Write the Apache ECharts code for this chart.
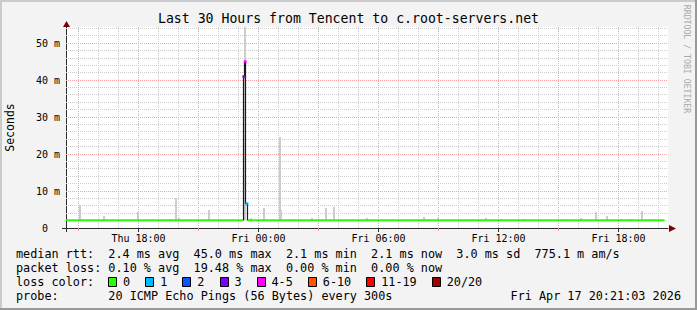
<!DOCTYPE html>
<html><head><meta charset="utf-8">
<script src="https://cdn.jsdelivr.net/npm/echarts@6/dist/echarts.min.js"></script>
<style>html,body{margin:0;padding:0;background:#f3f3f3}#c{width:697px;height:310px}</style>
</head><body><div id="c"></div>
<script>
// ---------------- data (hours since Thu 00:00, values in ms) ----------------
const titleText = 'Last 30 Hours from Tencent to c.root-servers.net';
const xRange = [14.375, 44.475];
const xLabelHours = [18, 24, 30, 36, 42];
const xLabelTexts = ['Thu 18:00', 'Fri 00:00', 'Fri 06:00', 'Fri 12:00', 'Fri 18:00'];
const xMinorTickHours = [15, 21, 27, 33, 39];
const yMax = 54.4;
const yTickValues = [0, 10, 20, 30, 40, 50];
const yTickTexts = ['0  ', '10 m', '20 m', '30 m', '40 m', '50 m'];
const yAxisName = 'Seconds';
const watermark = 'RRDTOOL / TOBI OETIKER';
const stepHours = 300 / 3600;

// median rtt, loss 0 (green)
const medianLine = [[14.375, 2.1], [23.25, 2.1], [23.3, '-'], [23.45, 2.1], [44.3, 2.1]];
// median rtt during the loss spike
const medianSpike = [[23.25, 2.1], [23.25, 41], [23.3, 41], [23.3, 45], [23.35, 45], [23.35, 6.6], [23.45, 6.6], [23.45, 2.1]];
// [hour, value, loss class index]
const lossMarks = [[23.27, 41, 3], [23.34, 45, 4], [23.42, 6.6, 1]];
// smoke: [hour, max ping]
const smokeLow = 2.1;
const smoke = [
  [15.075, 6.2], [16.265, 3.3], [17.95, 4.4], [19.6, 2.4], [19.85, 8.2], [20.0, 2.7],
  [21.515, 4.9], [23.325, 54.3], [23.6, 2.8], [24.265, 5.3], [25.05, 24.5], [25.12, 4.9],
  [25.6, 2.5], [26.685, 2.8], [27.35, 5.5], [27.765, 5.8], [29.435, 2.6], [32.265, 3.1],
  [32.515, 2.4], [32.965, 2.8], [34.685, 2.4], [35.35, 2.8], [36.1, 2.4], [37.015, 2.4],
  [37.265, 2.4], [39.185, 2.4], [40.1, 2.8], [40.85, 4.2], [41.435, 3.3], [42.1, 2.4],
  [42.6, 2.4], [43.185, 4.7], [43.765, 2.4]
];
const lossLabels = ['0', '1', '2', '3', '4-5', '6-10', '11-19', '20/20'];
const lossColors = ['#26ff00', '#00b8ff', '#0059ff', '#7e00ff', '#ff00ff', '#ff5500', '#ff0000', '#a10000'];
const medianStats = ['2.4 ms avg', '45.0 ms max', '2.1 ms min', '2.1 ms now', '3.0 ms sd', '775.1 m am/s'];
const lossStats = ['0.10 % avg', '19.48 % max', '0.00 % min', '0.00 % now'];
const probeText = '20 ICMP Echo Pings (56 Bytes) every 300s';
const stampText = 'Fri Apr 17 20:21:03 2026';

// ---------------- styling / layout ----------------
const MONO = '"DejaVu Sans Mono", monospace';
const MAJ = '#f2a0a0', MIN = '#cccccc', AXIS = '#2b2b2b', ARROW = '#7f0000';
const CW = 7.1, LX = 16, LFS = 11.8;
const nb = s => s.replace(/ /g, '\u00a0');
const pad = (s, n) => s + ' '.repeat(Math.max(0, n - s.length));

const gridHours = [];
for (let h = Math.ceil(xRange[0]); h <= Math.floor(xRange[1]); h++) gridHours.push([h]);
const gridMs = [];
for (let v = 2; v < yMax; v += 2) gridMs.push([v]);

function vGrid(params, api) {
  const h = api.value(0);
  const p = api.coord([h, 0]);
  const cs = params.coordSys;
  const x = Math.floor(p[0]) + 0.5;
  return { type: 'line', silent: true,
    shape: { x1: x, y1: cs.y, x2: x, y2: cs.y + cs.height },
    style: { stroke: h % 3 === 0 ? MAJ : MIN, lineWidth: 1, lineDash: [1, 1] } };
}
function hGrid(params, api) {
  const v = api.value(0);
  const p = api.coord([xRange[0], v]);
  const cs = params.coordSys;
  const y = Math.floor(p[1]) + 0.5;
  return { type: 'line', silent: true,
    shape: { x1: cs.x, y1: y, x2: cs.x + cs.width, y2: y },
    style: { stroke: v % 10 === 0 ? MAJ : MIN, lineWidth: 1, lineDash: [1, 1] } };
}
function smokeItem(params, api) {
  const h = api.value(0), hi = api.value(1);
  const top = api.coord([h, hi]);
  const bot = api.coord([h, smokeLow]);
  const w = Math.max(1, Math.round(api.size([stepHours, 0])[0]));
  const x = Math.round(top[0] - w / 2);
  return { type: 'rect', shape: { x: x, y: Math.round(top[1]), width: w, height: Math.round(bot[1]) - Math.round(top[1]) },
    style: { fill: '#cccccc' } };
}

// legend graphics
const graphics = [];
const txt = (x, y, s, extra) => Object.assign({ type: 'text', x: x, y: y, silent: true,
  style: Object.assign({ text: nb(s), fontFamily: MONO, fontSize: LFS, fill: '#000', verticalAlign: 'middle', align: 'left' }, extra || {}) });
graphics.push(txt(LX, 254, pad('median rtt:', 13) + medianStats.join('  ')));
graphics.push(txt(LX, 268, pad('packet loss:', 13) + lossStats.join('  ')));
graphics.push(txt(LX, 282, 'loss color:'));
let bx = LX + 13 * CW;
lossLabels.forEach((l, i) => {
  graphics.push({ type: 'rect', silent: true, shape: { x: Math.round(bx) + 0.5, y: 277.5, width: 8, height: 9 },
    style: { fill: lossColors[i], stroke: '#000', lineWidth: 1 } });
  const tx = bx + 14.8;
  graphics.push(txt(tx, 282, l));
  bx = tx + l.length * CW + 15.2;
});
graphics.push(txt(LX, 296, pad('probe:', 13) + probeText));
graphics.push(txt(681, 296, stampText, { align: 'right' }));
graphics.push({ type: 'text', x: 10, y: 127.5, rotation: Math.PI / 2, silent: true,
  style: { text: yAxisName, fontFamily: MONO, fontSize: 11.5, fill: '#000', align: 'center', verticalAlign: 'middle' } });
graphics.push({ type: 'text', x: 687, y: 59, rotation: -Math.PI / 2, silent: true,
  style: { text: nb(watermark), fontFamily: MONO, fontSize: 8.2, fill: '#aaaaaa', align: 'center', verticalAlign: 'middle' } });
// arrows
graphics.push({ type: 'polygon', silent: true, shape: { points: [[66.5, 21], [63, 27], [70, 27]] }, style: { fill: ARROW } });
graphics.push({ type: 'polygon', silent: true, shape: { points: [[676, 228.5], [669, 225], [669, 232]] }, style: { fill: ARROW } });
// frame shading
graphics.push({ type: 'rect', silent: true, shape: { x: 0, y: 0, width: 697, height: 2 }, style: { fill: '#cbcbcb' } });
graphics.push({ type: 'rect', silent: true, shape: { x: 0, y: 0, width: 2, height: 310 }, style: { fill: '#cbcbcb' } });
graphics.push({ type: 'rect', silent: true, shape: { x: 0, y: 308, width: 697, height: 2 }, style: { fill: '#999999' } });
graphics.push({ type: 'rect', silent: true, shape: { x: 695, y: 0, width: 2, height: 310 }, style: { fill: '#999999' } });

const chart = echarts.init(document.getElementById('c'), null, { renderer: 'svg', width: 697, height: 310 });
chart.setOption({
  animation: false,
  backgroundColor: '#f3f3f3',
  title: { text: titleText, left: 'center', top: 12, padding: 0,
    textStyle: { fontFamily: MONO, fontSize: 13.2, fontWeight: 'normal', color: '#000' } },
  grid: { left: 66, right: 29, top: 27, bottom: 82, show: true, backgroundColor: '#ffffff', borderWidth: 0 },
  xAxis: [{
    type: 'value', min: xRange[0], max: xRange[1],
    axisLine: { show: true, onZero: false, lineStyle: { color: AXIS, width: 1 } },
    axisTick: { show: true, customValues: [xRange[0]].concat(xLabelHours), length: 4, lineStyle: { color: AXIS } },
    axisLabel: { customValues: xLabelHours, margin: 5, fontFamily: MONO, fontSize: 10, color: '#000',
      formatter: v => nb(xLabelTexts[xLabelHours.indexOf(Math.round(v))] || '') },
    splitLine: { show: false }
  }, {
    type: 'value', min: xRange[0], max: xRange[1], position: 'bottom',
    axisLine: { show: false },
    axisTick: { show: true, customValues: xMinorTickHours, length: 3, lineStyle: { color: MAJ } },
    axisLabel: { show: false }, splitLine: { show: false }
  }],
  yAxis: {
    type: 'value', min: 0, max: yMax,
    axisLine: { show: true, onZero: false, lineStyle: { color: AXIS, width: 1 } },
    axisTick: { show: true, customValues: [0], length: 4, lineStyle: { color: AXIS } },
    axisLabel: { customValues: yTickValues, margin: 6, fontFamily: MONO, fontSize: 10, color: '#000',
      formatter: v => nb(yTickTexts[yTickValues.indexOf(Math.round(v))] || '') },
    splitLine: { show: false }
  },
  graphic: graphics,
  series: [
    { type: 'custom', renderItem: vGrid, data: gridHours, silent: true, z: 1 },
    { type: 'custom', renderItem: hGrid, data: gridMs, silent: true, z: 1 },
    { type: 'custom', renderItem: smokeItem, data: smoke, silent: true, z: 2 },
    { type: 'line', data: medianLine, showSymbol: false, connectNulls: false, z: 3,
      lineStyle: { color: lossColors[0], width: 2 } },
    { type: 'line', data: medianSpike, showSymbol: false, z: 4,
      lineStyle: { color: '#1a1a1a', width: 1.2 } },
    { type: 'scatter', data: lossMarks, symbol: 'rect', symbolSize: [3, 3], z: 5,
      itemStyle: { color: p => lossColors[p.data[2]] } }
  ]
});
</script></body></html>
